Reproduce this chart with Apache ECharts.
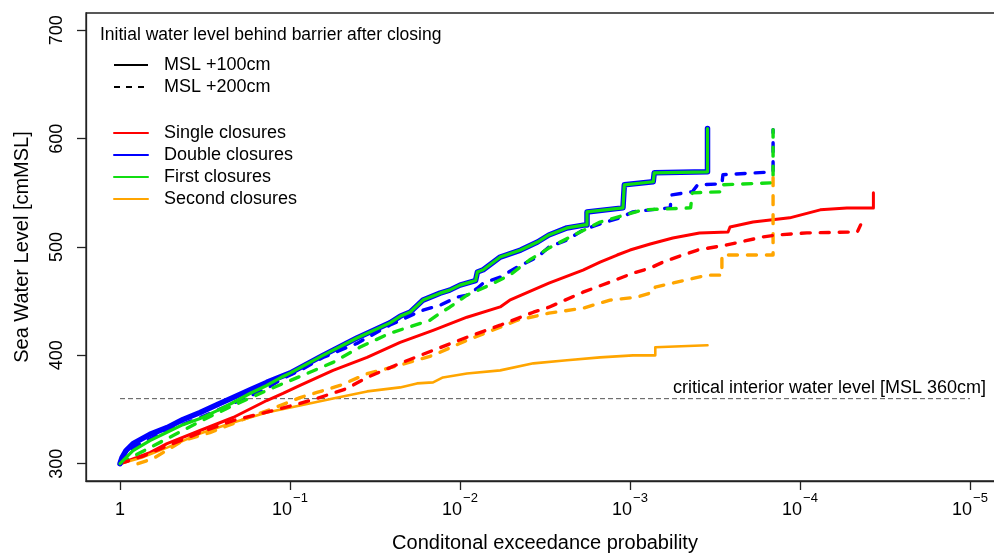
<!DOCTYPE html>
<html>
<head>
<meta charset="utf-8">
<script src="https://cdn.jsdelivr.net/npm/echarts@6/dist/echarts.min.js"></script>
<style>
  html, body { margin: 0; padding: 0; background: #fff; }
  #chart { width: 994px; height: 553px; }
</style>
</head>
<body>
<div id="chart"></div>
<script>
// Axis ticks
const xTicks = [1, 1e-1, 1e-2, 1e-3, 1e-4, 1e-5];
const yTicks = [300, 400, 500, 600, 700];
const criticalLevel = 360;

// [conditional exceedance probability, sea water level (cm MSL)]
// Initial level MSL +100cm
const singleMsl100 = [[1,300],[0.667,310.2],[0.529,318.5],[0.338,330.6],[0.216,342.6],[0.137,358.3],[0.110,364.8],[0.0873,372.2],[0.0558,386.1],[0.0352,398.1],[0.0225,412],[0.0144,423.1],[0.0091,435.2],[0.0058,444.7],[0.0051,450.9],[0.0030,466.7],[0.00189,478.7],[0.0015,486],[0.00119,492.6],[0.001,497.2],[0.00076,502.8],[0.00056,508.3],[0.00039,513],[0.000265,513.9],[0.000258,518.5],[0.000189,523.1],[0.000115,526.9],[0.000076,534.3],[0.000053,536.1],[0.000037,536.1],[0.000037,550]];
const doubleMsl100 = [[1,300],[0.973,305.6],[0.922,312],[0.838,318.5],[0.667,327],[0.529,333.3],[0.426,340.7],[0.338,347.2],[0.267,354.6],[0.216,361.1],[0.170,368.5],[0.137,375],[0.110,381],[0.1,383.6],[0.064,400],[0.0404,416],[0.0258,430],[0.0225,436],[0.0196,440],[0.0165,451],[0.0131,457.4],[0.0115,460.2],[0.01,464.8],[0.0087,467.6],[0.0081,469],[0.0079,476.9],[0.0073,479],[0.0058,490.7],[0.0044,497.2],[0.0035,504.6],[0.0030,511.1],[0.00235,517.6],[0.00184,520.4],[0.00179,520.4],[0.00179,532.4],[0.0011,536.1],[0.00108,536.1],[0.00108,557.4],[0.00073,560.2],[0.00072,560.2],[0.00072,568.5],[0.00035,569.4],[0.00035,609.3]];
const firstMsl100 = [[1,300],[0.935,304.6],[0.838,312],[0.667,321.3],[0.529,329],[0.426,336],[0.338,341.7],[0.268,349],[0.216,356.5],[0.171,365],[0.137,372.2],[0.110,380.5],[0.1,383.6],[0.064,400],[0.0404,416],[0.0258,430],[0.0225,436],[0.0196,440],[0.0165,451],[0.0131,457.4],[0.0115,460.2],[0.01,464.8],[0.0087,467.6],[0.0081,469],[0.0079,476.9],[0.0073,479],[0.0058,490.7],[0.0044,497.2],[0.0035,504.6],[0.0030,511.1],[0.00235,517.6],[0.00184,520.4],[0.00179,520.4],[0.00179,532.4],[0.0011,536.1],[0.00108,536.1],[0.00108,557.4],[0.00073,560.2],[0.00072,560.2],[0.00072,568.5],[0.00035,569.4],[0.00035,609.3]];
const secondMsl100 = [[1,300],[0.732,306],[0.529,314.8],[0.338,327.8],[0.216,338],[0.137,347.2],[0.0873,353.7],[0.0558,360.2],[0.0352,366.7],[0.0225,370.4],[0.0179,374.1],[0.0144,375],[0.0126,379.6],[0.0091,383.3],[0.0058,386.1],[0.0037,392.6],[0.00235,395.4],[0.0015,398.1],[0.00096,400],[0.00071,400],[0.00071,407.4],[0.00035,409.3]];

// Initial level MSL +200cm
const singleMsl200 = [[1,300],[0.732,307],[0.558,314.8],[0.338,328.7],[0.216,339.8],[0.126,349],[0.0873,355.6],[0.0694,360.2],[0.0462,369.4],[0.0352,379.6],[0.0225,392.6],[0.0144,404.6],[0.0091,416.7],[0.0058,427.8],[0.0037,439.8],[0.0030,444.4],[0.00189,458.3],[0.00131,467.6],[0.00096,475.9],[0.00076,480.6],[0.00064,486],[0.00053,490.7],[0.0004,497.2],[0.000269,501.9],[0.000165,509.3],[0.000137,511.1],[0.000091,513],[0.000046,513.9],[0.000044,520.4]];
const doubleMsl200 = [[1,300],[0.838,315],[0.529,330.6],[0.338,342.6],[0.216,355.6],[0.137,369.4],[0.110,378.7],[0.0873,386],[0.064,398],[0.0404,411],[0.0258,428],[0.0165,441.7],[0.0131,446.3],[0.0104,453.7],[0.0091,455.6],[0.0079,462],[0.0073,466.7],[0.0058,472.2],[0.0046,481.5],[0.0035,490.7],[0.0030,500],[0.00235,506.5],[0.00189,515.7],[0.00144,522.2],[0.00115,526.9],[0.00096,532.4],[0.00076,534.3],[0.00058,536.1],[0.00057,548],[0.00043,551],[0.0004,557.4],[0.000288,558.3],[0.000284,566.7],[0.000144,569.4],[0.000144,608.3]];
const firstMsl200 = [[1,300],[0.763,310],[0.529,323],[0.338,339],[0.216,353.7],[0.137,367.6],[0.0873,380.5],[0.0558,393.5],[0.0389,407.4],[0.0258,420.4],[0.0150,432.4],[0.0131,439],[0.0115,444.4],[0.0091,455.6],[0.0067,464.8],[0.0051,474],[0.0039,488],[0.0030,499],[0.00227,509],[0.0015,523],[0.00084,534.3],[0.00044,536.1],[0.00043,550],[0.000288,551],[0.000284,557.4],[0.000144,559.3],[0.000144,608.3]];
const secondMsl200 = [[0.784,300],[0.64,304.6],[0.426,321.3],[0.296,328.7],[0.216,337],[0.165,344.4],[0.126,350.9],[0.0873,361],[0.0694,365.7],[0.0508,372.2],[0.0352,383],[0.0225,391],[0.0144,400],[0.0091,413.9],[0.0058,426],[0.0046,432.4],[0.003,438.9],[0.00189,443.5],[0.00131,451],[0.00091,453.7],[0.00073,458.3],[0.00071,463],[0.00056,466.7],[0.00035,474],[0.000288,474],[0.000288,492.6],[0.000144,492.6],[0.000144,564]];

const FONT = '"Liberation Sans", Arial, sans-serif';
const DASH = [9, 10];
const RED = '#FF0000', BLUE = '#0000FF', GREEN = '#11DD11', ORANGE = '#FFA500';

function curve(name, data, color, width, dashed) {
  return {
    name, type: 'line', data, symbol: 'none', showSymbol: false,
    lineStyle: { color, width, type: dashed ? DASH : 'solid', cap: 'round', join: 'round' },
    itemStyle: { color }, emphasis: { disabled: true }, silent: true
  };
}

function expLabel(v) {
  if (v === 1) return '{b|1}';
  const e = Math.round(Math.log10(v));
  return '{b|10}{s|\u2212' + Math.abs(e) + '}';
}

const legendCommon = {
  orient: 'vertical', left: 113, itemWidth: 34, itemHeight: 14, itemGap: 4, padding: 0,
  selectedMode: false,
  itemStyle: { color: 'transparent', borderColor: 'transparent', borderWidth: 0, opacity: 0 },
  textStyle: { fontFamily: FONT, fontSize: 18, color: '#000', padding: [0, 0, 0, 11] }
};

const chart = echarts.init(document.getElementById('chart'), null, { renderer: 'canvas' });

const option = {
  animation: false,
  backgroundColor: '#fff',
  textStyle: { fontFamily: FONT },
  title: {
    text: 'Initial water level behind barrier after closing',
    left: 100, top: 26, padding: 0,
    textStyle: { fontFamily: FONT, fontSize: 17.5, fontWeight: 'normal', color: '#000' }
  },
  grid: {
    left: 86, right: -10, top: 13, bottom: 72,
    outerBoundsMode: 'none', containLabel: false,
    show: true, borderColor: '#222', borderWidth: 1.3, backgroundColor: 'transparent'
  },
  legend: [
    Object.assign({}, legendCommon, {
      data: ['MSL +100cm', 'MSL +200cm'], top: 56
    }),
    Object.assign({}, legendCommon, {
      data: ['Single closures', 'Double closures', 'First closures', 'Second closures'], top: 124,
      lineStyle: { width: 2, type: 'solid' }
    })
  ],
  xAxis: {
    type: 'log', logBase: 10, inverse: true,
    min: Math.pow(10, -5.2), max: Math.pow(10, 0.2),
    name: 'Conditonal exceedance probability', nameLocation: 'middle', nameGap: 52,
    nameTextStyle: { fontFamily: FONT, fontSize: 20, color: '#000' },
    axisLine: { show: true, lineStyle: { color: '#222', width: 1.3 } },
    axisTick: { show: true, length: 9, customValues: xTicks, lineStyle: { color: '#222', width: 1.3 } },
    axisLabel: {
      customValues: xTicks, formatter: expLabel, margin: 11, color: '#000',
      rich: {
        b: { fontFamily: FONT, fontSize: 18, color: '#000', padding: [9, 0, 0, 0] },
        s: { fontFamily: FONT, fontSize: 13, color: '#000', verticalAlign: 'top', padding: [0, 0, 0, 1] }
      }
    },
    splitLine: { show: false }, minorTick: { show: false }
  },
  yAxis: {
    type: 'value', min: 284, max: 716,
    name: 'Sea Water Level [cmMSL]', nameLocation: 'middle', nameGap: 54, nameRotate: 90,
    nameTextStyle: { fontFamily: FONT, fontSize: 20, color: '#000' },
    axisLine: { show: true, lineStyle: { color: '#222', width: 1.3 } },
    axisTick: { show: true, length: 9, customValues: yTicks, lineStyle: { color: '#222', width: 1.3 } },
    axisLabel: { customValues: yTicks, rotate: 90, margin: 20, fontFamily: FONT, fontSize: 18, color: '#000' },
    splitLine: { show: false }
  },
  series: [
    { name: 'MSL +100cm', type: 'line', data: [], symbol: 'none', lineStyle: { color: '#000', width: 2, type: 'solid' }, itemStyle: { color: '#000' } },
    { name: 'MSL +200cm', type: 'line', data: [], symbol: 'none', lineStyle: { color: '#000', width: 2, type: [6, 6] }, itemStyle: { color: '#000' } },
    {
      name: 'critical', type: 'line', symbol: 'none', silent: true,
      data: [[xTicks[0], criticalLevel], [xTicks[xTicks.length - 1], criticalLevel]],
      lineStyle: { color: '#555', width: 1, type: [5, 3] }
    },
    curve('Single closures', singleMsl100, RED, 3, false),
    curve('Double closures', doubleMsl100, BLUE, 5.5, false),
    curve('First closures', firstMsl100, GREEN, 3.2, false),
    curve('Second closures', secondMsl100, ORANGE, 2.6, false),
    curve('Double closures', doubleMsl200, BLUE, 3.4, true),
    curve('First closures', firstMsl200, GREEN, 3.4, true),
    curve('Second closures', secondMsl200, ORANGE, 3.4, true),
    curve('Single closures', singleMsl200, RED, 3.4, true)
  ]
};
// keep solid curves drawn above the dashed ones where they overlap
option.series.forEach((s, i) => { s.z = 2 + i * 0.01; });
option.series[4].z = 3; option.series[5].z = 3.1;

chart.setOption(option);

// label of the critical interior level
const endPt = chart.convertToPixel({ gridIndex: 0 }, [xTicks[xTicks.length - 1], criticalLevel]);
chart.setOption({
  graphic: [{
    type: 'text', x: endPt[0] + 16, y: endPt[1] - 11,
    style: { text: 'critical interior water level [MSL 360cm]', font: '18px ' + FONT, fill: '#000', textAlign: 'right', textVerticalAlign: 'middle' },
    silent: true
  }]
});
</script>
</body>
</html>
